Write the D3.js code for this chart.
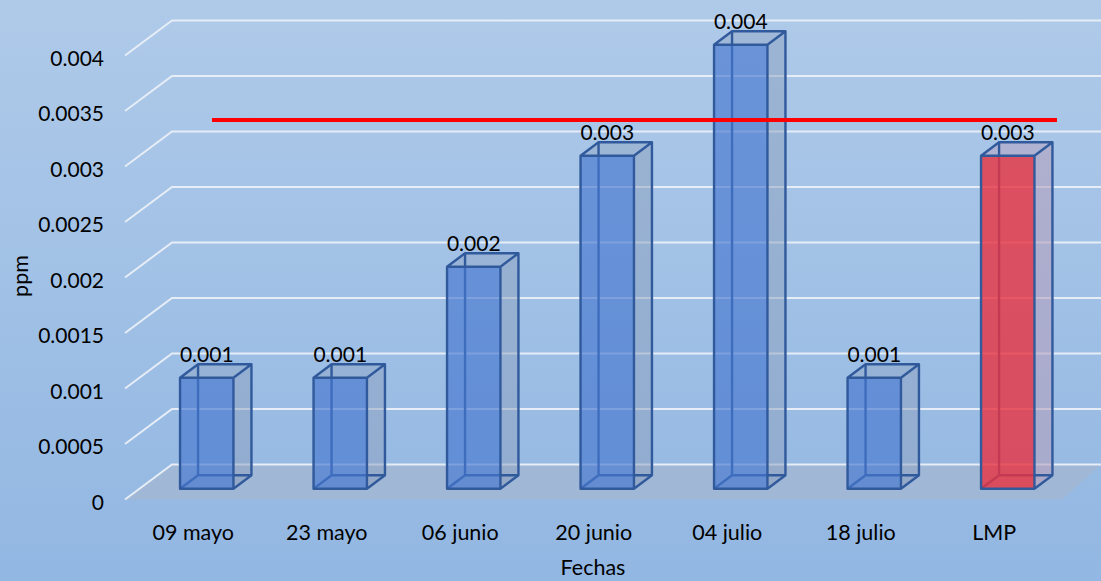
<!DOCTYPE html>
<html><head><meta charset="utf-8">
<script src="https://cdn.jsdelivr.net/npm/d3@7"></script>
<style>html,body{margin:0;padding:0;background:#9dbde4;overflow:hidden}
text{font-family:Lato,"Open Sans",sans-serif;fill:#000}</style></head>
<body><svg id="c" width="1101" height="581"></svg>
<script>
const categories=["09 mayo","23 mayo","06 junio","20 junio","04 julio","18 julio","LMP"];
const values=[0.001,0.001,0.002,0.003,0.004,0.001,0.003];
const barColors=["blue","blue","blue","blue","blue","blue","red"];
const tickValues=[0,0.0005,0.001,0.0015,0.002,0.0025,0.003,0.0035,0.004];
const tickLabels=["0","0.0005","0.001","0.0015","0.002","0.0025","0.003","0.0035","0.004"];
const limitValue=0.00332;

const W=1101,H=581;
const svg=d3.select("#c");
const defs=svg.append("defs");
const g=defs.append("linearGradient").attr("id","bg").attr("x1",0).attr("y1",0).attr("x2",0).attr("y2",1);
g.append("stop").attr("offset",0).attr("stop-color","#afcae9");
g.append("stop").attr("offset",1).attr("stop-color","#92b7e2");
svg.append("rect").attr("width",W).attr("height",H).attr("fill","url(#bg)");

const depthX=47,depthY=35;            // wall depth
const barDX=18,barDY=13.5;            // bar depth
const yFront=d3.scaleLinear().domain([0,0.004]).range([499.5,55.5]);
const yBar=d3.scaleLinear().domain([0,0.004]).range([488.7,44.7]);
const x=d3.scaleBand().domain(categories).range([140,1074.5]).paddingInner(0.6).paddingOuter(0.3);
const cx=c=>x(c)+x.bandwidth()/2;

// floor
svg.append("polygon").attr("fill","#a0b8d6")
 .attr("points",[[125,yFront(0)],[125+depthX,yFront(0)-depthY],[W,yFront(0)-depthY],[1062,yFront(0)]].join(" "));
// grid
svg.append("g").selectAll("path").data(tickValues).join("path")
 .attr("fill","none").attr("stroke","#e6edf6").attr("stroke-width",2)
 .attr("d",d=>`M125,${yFront(d)}L${125+depthX},${yFront(d)-depthY}H${W}`);

// y axis
const yAxis=d3.axisLeft(yFront).tickValues(tickValues).tickSize(0).tickPadding(0)
 .tickFormat((d,i)=>tickLabels[i]);
const ya=svg.append("g").attr("transform","translate(104,2)").call(yAxis);
ya.select(".domain").remove();
ya.selectAll("text").style("font-size","21px").style("font-family","Lato,sans-serif").attr("dy","0.36em").attr("fill","#000");
// x axis
const xAxis=d3.axisBottom(x).tickSize(0).tickPadding(0);
const xa=svg.append("g").attr("transform","translate(-13.5,525)").call(xAxis);
xa.select(".domain").remove();
xa.selectAll("text").style("font-size","21.5px").style("font-family","Lato,sans-serif").attr("fill","#000");

// bars
const pal={blue:{front:"rgba(72,120,208,.66)",side:"rgba(140,160,190,.5)",top:"rgba(140,160,190,.4)",edge:"#315a9c"},
           red:{front:"rgba(232,50,64,.8)",side:"rgba(180,160,190,.6)",top:"rgba(180,165,195,.6)",edge:"#315a9c"}};
const bars=svg.append("g").selectAll("g").data(categories).join("g");
bars.each(function(c,i){
  const s=d3.select(this),p=pal[barColors[i]];
  const x0=x(c),x1=x0+x.bandwidth(),y0=yBar(0),y1=yBar(values[i]),dx=barDX,dy=barDY;
  s.append("polygon").attr("fill",p.side).attr("points",[[x1,y0],[x1+dx,y0-dy],[x1+dx,y1-dy],[x1,y1]].join(" "));
  s.append("polygon").attr("fill",p.top).attr("points",[[x0,y1],[x0+dx,y1-dy],[x1+dx,y1-dy],[x1,y1]].join(" "));
  s.append("polygon").attr("fill",p.side).attr("fill-opacity",.35).attr("points",[[x0,y0],[x0+dx,y0-dy],[x1+dx,y0-dy],[x1,y0]].join(" "));
  s.append("path").attr("fill","none").attr("stroke",p.edge).attr("stroke-width",2.4)
    .attr("d",`M${x0+dx},${y1-dy}V${y0-dy}M${x0},${y0}L${x0+dx},${y0-dy}H${x1+dx}`);
  s.append("rect").attr("x",x0).attr("y",y1).attr("width",x1-x0).attr("height",y0-y1).attr("fill",p.front);
  s.append("path").attr("fill","none").attr("stroke",p.edge).attr("stroke-width",2.4).attr("stroke-linejoin","round")
    .attr("d",`M${x0},${y0}V${y1}H${x1}V${y0}ZM${x0},${y1}L${x0+dx},${y1-dy}H${x1+dx}L${x1},${y1}M${x1+dx},${y1-dy}V${y0-dy}L${x1},${y0}`);
});
// data labels
svg.append("g").selectAll("text").data(categories).join("text")
 .attr("x",c=>cx(c)).attr("y",(c,i)=>yBar(values[i])-16).attr("text-anchor","middle")
 .style("font-size","21px").text((c,i)=>values[i]);
// limit line
svg.append("line").attr("x1",212).attr("x2",1057).attr("y1",120).attr("y2",120)
 .attr("data-value",limitValue).attr("stroke","#ff0000").attr("stroke-width",4);
// titles
svg.append("text").attr("x",593).attr("y",575).attr("text-anchor","middle").style("font-size","21.5px").text("Fechas");
svg.append("text").attr("transform","translate(28,276) rotate(-90)").attr("text-anchor","middle").style("font-size","21.5px").text("ppm");
</script></body></html>
